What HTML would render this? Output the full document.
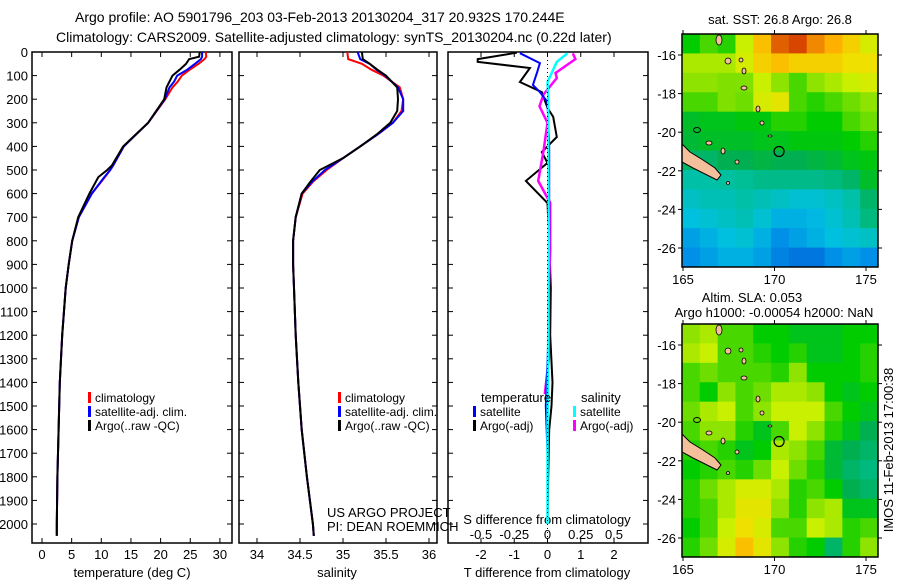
<!DOCTYPE html>
<html><head><meta charset="utf-8"><style>
body{margin:0;background:#fff;}
svg{display:block;font-family:"Liberation Sans",sans-serif;}
text{fill:#000;}
</style></head><body>
<svg id="c" width="900" height="580" viewBox="0 0 900 580" xmlns="http://www.w3.org/2000/svg">
<text x="75" y="22" font-size="14">Argo profile: AO 5901796_203 03-Feb-2013 20130204_317 20.932S 170.244E</text>
<text x="56" y="42" font-size="14">Climatology: CARS2009. Satellite-adjusted climatology: synTS_20130204.nc (0.22d later)</text>
<g id="g"></g>
</svg>
<script>
// ---- profile data ----
const tDepths = [0,20,30,50,75,100,125,150,200,300,400,480,500,530,600,700,800,900,1000,1200,1400,1600,1800,2000,2050];
const tempArgo = [26.6,26.5,24.8,24.3,23.2,22.0,21.5,21.0,20.6,17.9,13.7,11.8,11.0,9.5,8.0,6.1,5.1,4.5,4.0,3.4,3.0,2.8,2.6,2.5,2.5];
const tempClim = [27.6,27.7,27.4,26.4,24.9,23.6,22.9,22.0,20.8,17.9,13.8,12.0,11.5,10.6,8.4,6.2,5.1,4.5,4.0,3.4,3.0,2.8,2.6,2.5,2.5];
const tempSat  = [27.0,27.0,26.8,25.8,24.5,22.8,22.3,21.5,20.7,17.9,13.8,12.0,11.5,10.5,8.4,6.2,5.1,4.5,4.0,3.4,3.0,2.8,2.6,2.5,2.5];
const sDepths = [0,30,50,75,100,150,200,250,300,350,400,450,500,550,600,700,800,900,1000,1200,1400,1600,1800,2000,2050];
const salArgo = [35.22,35.23,35.31,35.40,35.50,35.63,35.64,35.63,35.55,35.39,35.20,35.00,34.73,34.62,34.52,34.45,34.42,34.42,34.43,34.45,34.48,34.52,34.58,34.65,34.66];
const salClim = [35.05,35.06,35.22,35.33,35.47,35.66,35.70,35.68,35.58,35.40,35.20,35.00,34.81,34.65,34.53,34.45,34.42,34.42,34.43,34.45,34.48,34.52,34.58,34.65,34.66];
const salSat  = [35.17,35.20,35.31,35.39,35.49,35.64,35.70,35.70,35.58,35.40,35.20,35.00,34.79,34.64,34.52,34.45,34.42,34.42,34.43,34.45,34.48,34.52,34.58,34.65,34.66];
// difference panel
const dtArgoDepths = [3,30,42,68,127,170,237,275,360,424,470,546,640,800,1000,1200,1400,1500,1600,1800,2000];
const dtArgo = [-0.92,-2.1,-2.1,-0.53,-0.83,-0.17,0,0.17,0.28,-0.17,0,-0.65,0,0.05,0.1,0.08,0.15,0.12,0.05,0.02,0];
const dtSatDepths = [5,47,89,140,170,212,400,800,1200,1500,1700,2000];
const dtSat = [-0.83,-0.23,-0.32,-0.44,-0.23,0,0.05,0.05,0.03,-0.05,0,0];
const dsSatDepths = [5,42,127,195,400,800,1200,1600,2000];
const dsSat = [0.15,0.07,0,0.005,0.005,0.01,0.005,0,0];
const dsArgoDepths = [6,30,89,110,180,230,300,420,546,640,840,1000,1300,1450];
const dsArgo = [0.19,0.21,0.06,0.07,-0.03,-0.06,0,-0.03,-0.07,0.02,0.02,0.01,0.01,-0.02];
// map data (11 cols: 165..175.7, 12 rows: -14.9..-27), colormap index 0..1
const sstGrid = [
[0.58,0.62,0.6,0.7,0.8,0.88,0.9,0.85,0.82,0.78,0.72],
[0.68,0.68,0.68,0.72,0.78,0.8,0.78,0.78,0.78,0.76,0.76],
[0.66,0.66,0.65,0.65,0.7,0.66,0.62,0.66,0.68,0.7,0.72],
[0.62,0.62,0.65,0.64,0.72,0.74,0.62,0.6,0.62,0.64,0.66],
[0.55,0.56,0.56,0.57,0.57,0.6,0.6,0.58,0.58,0.62,0.64],
[0.54,0.55,0.55,0.55,0.56,0.56,0.57,0.57,0.57,0.58,0.6],
[0.5,0.5,0.52,0.52,0.53,0.52,0.52,0.53,0.54,0.56,0.57],
[0.44,0.44,0.45,0.46,0.47,0.47,0.47,0.47,0.48,0.5,0.55],
[0.4,0.42,0.42,0.44,0.42,0.4,0.38,0.38,0.4,0.44,0.5],
[0.36,0.38,0.4,0.42,0.38,0.34,0.34,0.35,0.38,0.42,0.48],
[0.32,0.34,0.36,0.38,0.34,0.3,0.32,0.34,0.36,0.38,0.4],
[0.3,0.32,0.34,0.34,0.32,0.28,0.26,0.26,0.3,0.32,0.3]];
const slaGrid = [
[0.66,0.68,0.62,0.62,0.58,0.58,0.56,0.56,0.56,0.58,0.58],
[0.68,0.7,0.62,0.62,0.6,0.58,0.6,0.56,0.56,0.58,0.6],
[0.62,0.64,0.62,0.62,0.62,0.6,0.66,0.58,0.58,0.58,0.6],
[0.62,0.58,0.66,0.62,0.64,0.68,0.68,0.66,0.58,0.56,0.58],
[0.64,0.68,0.7,0.62,0.66,0.7,0.7,0.7,0.62,0.58,0.56],
[0.62,0.66,0.66,0.6,0.56,0.62,0.7,0.66,0.6,0.56,0.52],
[0.6,0.62,0.6,0.56,0.58,0.68,0.66,0.62,0.54,0.52,0.5],
[0.58,0.6,0.62,0.6,0.64,0.7,0.64,0.6,0.54,0.5,0.48],
[0.6,0.64,0.68,0.72,0.72,0.68,0.6,0.62,0.58,0.52,0.5],
[0.6,0.62,0.68,0.74,0.74,0.66,0.6,0.66,0.68,0.56,0.56],
[0.58,0.62,0.7,0.76,0.72,0.62,0.62,0.7,0.68,0.6,0.62],
[0.6,0.64,0.72,0.8,0.74,0.66,0.6,0.58,0.5,0.6,0.66]];
const depthTicks = [0,100,200,300,400,500,600,700,800,900,1000,1100,1200,1300,1400,1500,1600,1700,1800,1900,2000];
const tempTicks = [0,5,10,15,20,25,30];
const salTicks = [34,34.5,35,35.5,36];
const dtTicks = [-2,-1,0,1,2];
const dsTicks = [-0.5,-0.25,0,0.25,0.5];
const dsTickLabels = ['-0.5','-0.25','0','0.25','0.5'];
const latTicks = [-16,-18,-20,-22,-24,-26];
const lonTicks = [165,170,175];

const NS='http://www.w3.org/2000/svg';
const G=document.getElementById('g');
function mk(tag,at,parent){const e=document.createElementNS(NS,tag);for(const k in at)e.setAttribute(k,at[k]);(parent||G).appendChild(e);return e;}
const yD=d=>52+d*0.236;
const xT=t=>42+t*5.93;
const xS=s=>257+(s-34)*86;
const xDT=v=>547.5+v*33.25;
const xDS=v=>547.5+v*133;
const PB=543;

function panel(x0,x1,name){
  const r=mk('rect',{x:x0,y:52,width:x1-x0,height:PB-52,fill:'none',stroke:'#000','stroke-width':1.5});
  
  
}
panel(32,232,'temperature-panel');
panel(239,437,'salinity-panel');
panel(448,648,'difference-panel');

depthTicks.forEach(d=>{
  const y=yD(d);
  const t=mk('text',{x:28,y:y+5,'font-size':13,'text-anchor':'end'});t.textContent=d;
  
  
  [[32,37],[227,232],[239,244],[432,437],[448,453],[643,648]].forEach(p=>mk('line',{x1:p[0],x2:p[1],y1:y,y2:y,stroke:'#000'}));
});
function xticks(arr,fx,ly,labels,name,top){
  arr.forEach((v,i)=>{
    const x=fx(v);
    mk('line',{x1:x,x2:x,y1:PB,y2:PB-5,stroke:'#000'});
    if(top) mk('line',{x1:x,x2:x,y1:52,y2:57,stroke:'#000'});
    const t=mk('text',{x:x,y:ly,'font-size':13,'text-anchor':'middle'});t.textContent=labels?labels[i]:v;
    
    
  });
}
xticks(tempTicks,xT,559,null,'temperature-tick-label',true);
xticks(salTicks,xS,559,null,'salinity-tick-label',true);
xticks(dtTicks,xDT,559,null,'t-diff-tick-label',false);
dsTicks.forEach((v,i)=>{
  const x=xDS(v);
  mk('line',{x1:x,x2:x,y1:52,y2:57,stroke:'#000'});
  const t=mk('text',{x:x,y:539,'font-size':13,'text-anchor':'middle'});t.textContent=dsTickLabels[i];
  
  
});
function label(x,y,s,name,anchor){const t=mk('text',{x:x,y:y,'font-size':13,'text-anchor':anchor||'middle'});t.textContent=s;
  
  return t;}
label(132,577,'temperature (deg C)','temperature-axis-title');
label(337,577,'salinity','salinity-axis-title');
label(547,577,'T difference from climatology','t-diff-axis-title');
label(547,524,'S difference from climatology','s-diff-axis-title');
label(327,517,'US ARGO PROJECT','project-label','start');
label(327,531,'PI: DEAN ROEMMICH','pi-label','start');

function line(ds,vs,fx,col,name,w){
  const pts=ds.map((d,i)=>fx(vs[i]).toFixed(1)+','+yD(d).toFixed(1)).join(' ');
  const p=mk('polyline',{points:pts,fill:'none',stroke:col,'stroke-width':w||2});
  
  
}
line(tDepths,tempClim,xT,'#ff0000','temperature-climatology-line');
line(tDepths,tempSat,xT,'#0000ff','temperature-satellite-line');
line(tDepths,tempArgo,xT,'#000','temperature-argo-line');
line(sDepths,salClim,xS,'#ff0000','salinity-climatology-line');
line(sDepths,salSat,xS,'#0000ff','salinity-satellite-line');
line(sDepths,salArgo,xS,'#000','salinity-argo-line');
line(dtArgoDepths,dtArgo,xDT,'#000','t-diff-argo-line');
line(dsArgoDepths,dsArgo,xDS,'#ff00ff','s-diff-argo-line',2.5);
line(dtSatDepths,dtSat,xDT,'#0000ff','t-diff-satellite-line');
line(dsSatDepths,dsSat,xDS,'#00ffff','s-diff-satellite-line',2.5);
mk('line',{x1:547.5,x2:547.5,y1:52,y2:PB,stroke:'#000','stroke-dasharray':'1,3'});

function legend(x,y,items,name){
  items.forEach((it,i)=>{
    const yy=y+i*14;
    mk('rect',{x:x,y:yy-10,width:3,height:11,fill:it[1]});
    const t=mk('text',{x:x+7,y:yy,'font-size':12});t.textContent=it[0];
    
    
  });
}
legend(88,402,[['climatology','#ff0000'],['satellite-adj. clim.','#0000ff'],['Argo(..raw -QC)','#000']],'temperature-legend');
legend(338,402,[['climatology','#ff0000'],['satellite-adj. clim.','#0000ff'],['Argo(..raw -QC)','#000']],'salinity-legend');
label(481,402,'temperature','diff-legend-temperature-header','start');
label(581,402,'salinity','diff-legend-salinity-header','start');
legend(473,416,[['satellite','#0000ff'],['Argo(-adj)','#000']],'diff-legend-temperature');
legend(573,416,[['satellite','#00ffff'],['Argo(-adj)','#ff00ff']],'diff-legend-salinity');

// ---- maps ----
const stops=[[0.2,[0,80,208]],[0.3,[0,144,232]],[0.36,[0,192,224]],[0.45,[0,192,160]],[0.52,[0,176,80]],[0.58,[0,204,0]],[0.65,[128,224,0]],[0.7,[200,240,0]],[0.76,[240,224,0]],[0.82,[255,176,0]],[0.88,[224,96,0]],[0.95,[192,0,0]]];
function cmap(v){
  if(v<=stops[0][0])return 'rgb('+stops[0][1]+')';
  for(let i=1;i<stops.length;i++){if(v<=stops[i][0]){const a=stops[i-1],b=stops[i],f=(v-a[0])/(b[0]-a[0]);
    return 'rgb('+a[1].map((c,k)=>Math.round(c+(b[1][k]-c)*f)).join(',')+')';}}
  return 'rgb('+stops[stops.length-1][1]+')';
}
function map(top,grid,name){
  const L=682,R=878,B=top+233;
  const lonX=lo=>683+(lo-165)*18.3;
  const latY=la=>top+21+(-16-la)*19.3;
  const g=mk('g',{});
  
  
  const cw=(R-L)/11,ch=(B-top)/12;
  grid.forEach((row,r)=>row.forEach((v,c)=>{
    const cell=mk('rect',{x:L+c*cw,y:top+r*ch,width:cw+0.5,height:ch+0.5,fill:cmap(v)},g);
    
    
  }));
  const dy=top-34;
  const nc=[[682,144],[690,152],[703,160],[715,168],[721,175],[717,180],[707,175],[693,168],[682,162]];
  const isl=mk('polygon',{points:nc.map(p=>p[0]+','+(p[1]+dy)).join(' '),fill:'#f4c09c',stroke:'#000','stroke-width':1},g);
  
  
  [[719,40,3,5],[728,61,3,3],[741,60,2,2],[744,71,2,3],[744,88,3,2],[758,109,2,3],[762,123,2,2],[770,136,2,1],[709,143,3,2],[723,151,2,3],[737,162,2,2],[728,183,1.5,1.5]].forEach(p=>{
    mk('ellipse',{cx:p[0],cy:p[1]+dy,rx:p[2],ry:p[3],fill:'#f4c09c',stroke:'#000','stroke-width':0.8},g);
  });
  mk('ellipse',{cx:697,cy:130+dy,rx:3.5,ry:2.5,fill:'none',stroke:'#000'},g);
  const ci=mk('circle',{cx:lonX(170.25),cy:latY(-21),r:5,fill:'none',stroke:'#000','stroke-width':1.2},g);
  
  
  mk('rect',{x:L,y:top,width:R-L,height:B-top,fill:'none',stroke:'#000','stroke-width':1.5},g);
  latTicks.forEach(la=>{const y=latY(la);
    mk('line',{x1:L-4,x2:L,y1:y,y2:y,stroke:'#000'});mk('line',{x1:R,x2:R+4,y1:y,y2:y,stroke:'#000'});
    const t=mk('text',{x:676,y:y+5,'font-size':13,'text-anchor':'end'});t.textContent=la;
    
    });
  lonTicks.forEach(lo=>{const x=lonX(lo);
    mk('line',{x1:x,x2:x,y1:top-4,y2:top,stroke:'#000'});mk('line',{x1:x,x2:x,y1:B,y2:B+4,stroke:'#000'});
    const t=mk('text',{x:x,y:B+17,'font-size':13,'text-anchor':'middle'});t.textContent=lo;
    
    });
}
map(34,sstGrid,'sst-map');
map(324,slaGrid,'sla-map');
label(780,24,'sat. SST: 26.8 Argo: 26.8','sst-map-title');
label(752,302,'Altim. SLA: 0.053','sla-map-title');
label(774,317,'Argo h1000: -0.00054 h2000: NaN','sla-map-subtitle');
const im=label(0,0,'IMOS 11-Feb-2013 17:00:38','imos-timestamp','middle');
im.setAttribute('transform','translate(893,450) rotate(-90)');
</script>
</body></html>
